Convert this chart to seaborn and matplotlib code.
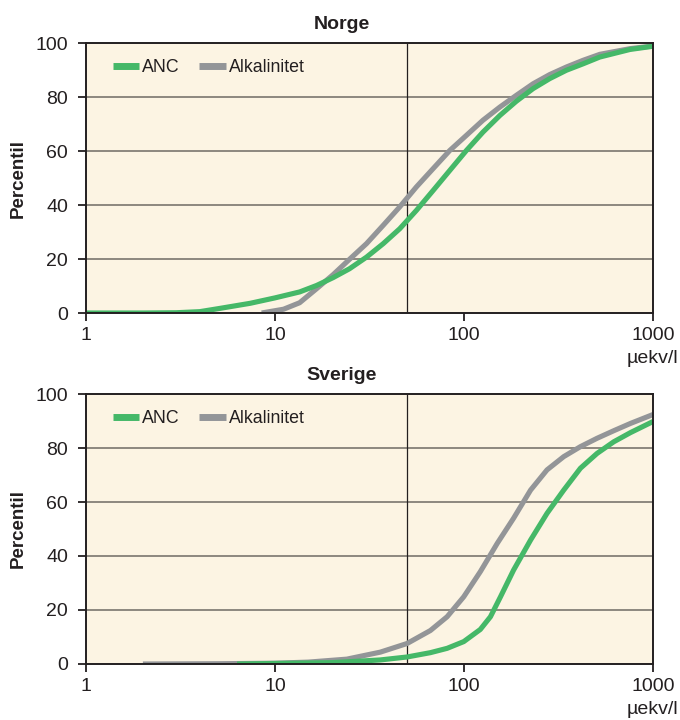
import matplotlib
matplotlib.use("Agg")
import matplotlib.pyplot as plt
import seaborn as sns
import pandas as pd
from matplotlib.ticker import NullLocator, FixedLocator, FixedFormatter

# ---------------- data ----------------
norge_anc_x = [1, 2, 3, 4, 5.1, 7.4, 10, 13.5, 16.6, 20.3, 24.8, 30.5, 37.4, 45.7,
               56, 68.7, 84.1, 103, 126, 155, 189, 232, 284, 348, 427, 523, 755, 1000]
norge_anc_y = [0, 0, 0.1, 0.5, 1.7, 3.6, 5.6, 7.8, 10.2, 13.1, 16.4, 20.7, 25.7, 31.2,
               38, 45.4, 52.8, 60.2, 67, 73.2, 78.4, 83.1, 86.8, 89.9, 92.3, 94.8, 97.6, 98.8]

norge_alk_x = [8.5, 11.1, 13.5, 16.6, 20.3, 24.8, 30.5, 37.4, 45.7, 56, 68.7, 84.1,
               103, 126, 155, 189, 232, 284, 348, 427, 523, 755, 1000]
norge_alk_y = [0, 1.4, 3.8, 9.0, 14.2, 19.9, 25.7, 32.5, 39.3, 46.7, 53.5, 60.2,
               65.8, 71.4, 76.3, 80.6, 84.9, 88.3, 91.1, 93.6, 95.8, 97.9, 98.9]

sverige_alk_x = [2, 5, 10, 15, 24, 36.1, 50, 66.4, 81.4, 99.7, 122, 150, 183, 225,
                 275, 337, 413, 506, 620, 760, 1000]
sverige_alk_y = [0, 0.1, 0.3, 0.7, 1.8, 4.4, 7.6, 12.4, 17.5, 24.9, 34.2, 44.7, 54, 64.4,
                 71.9, 76.8, 80.5, 83.6, 86.4, 89.1, 92.4]

sverige_anc_x = [6.3, 10, 20, 36, 50, 66.4, 81.4, 99.7, 122, 138, 156, 183, 225, 275,
                 337, 413, 506, 620, 760, 1000]
sverige_anc_y = [0, 0.2, 0.5, 1.5, 2.6, 4.2, 5.8, 8.3, 12.8, 17.5, 24.9, 34.8, 45.9, 55.8,
                 64.4, 72.5, 78, 82.3, 85.7, 89.8]

series_names = ["ANC", "Alkalinitet"]
panel_titles = ["Norge", "Sverige"]
x_ticks = [1, 10, 100, 1000]
x_tick_labels = ["1", "10", "100", "1000"]
y_ticks = [0, 20, 40, 60, 80, 100]
x_unit = "\u00b5ekv/l"
y_label = "Percentil"
ref_value = 50

# ---------------- style ----------------
sns.set_style("ticks")
plt.rcParams["font.family"] = ["Liberation Sans", "DejaVu Sans"]

GREEN = "#45B868"
GRAY = "#939598"
BG = "#FCF4E3"
GRID = "#6F6A64"
DARK = "#231F20"

def build_df(anc_x, anc_y, alk_x, alk_y):
    d1 = pd.DataFrame({"x": anc_x, "y": anc_y, "serie": series_names[0]})
    d2 = pd.DataFrame({"x": alk_x, "y": alk_y, "serie": series_names[1]})
    return pd.concat([d1, d2], ignore_index=True)

panels = [
    build_df(norge_anc_x, norge_anc_y, norge_alk_x, norge_alk_y),
    build_df(sverige_anc_x, sverige_anc_y, sverige_alk_x, sverige_alk_y),
]

fig = plt.figure(figsize=(6.8, 7.2), dpi=100)
W, H = 680, 720
axes_rects = [
    [86 / W, 1 - 313 / H, 567 / W, 270 / H],
    [86 / W, 1 - 664 / H, 567 / W, 270 / H],
]

for df, title, rect in zip(panels, panel_titles, axes_rects):
    ax = fig.add_axes(rect)
    ax.set_facecolor(BG)
    ax.set_xscale("log")
    ax.set_xlim(1, 1000)
    ax.set_ylim(0, 100)

    # grid + reference line
    for yv in y_ticks[1:-1]:
        ax.axhline(yv, color=GRID, lw=1.1, zorder=1)
    ax.axvline(ref_value, color=DARK, lw=0.9, zorder=1)

    sns.lineplot(data=df, x="x", y="y", hue="serie",
                 hue_order=["Alkalinitet", "ANC"],
                 palette={"ANC": GREEN, "Alkalinitet": GRAY},
                 estimator=None, sort=True, linewidth=3.7, ax=ax,
                 legend=True, zorder=3)
    for ln in ax.get_lines():
        ln.set_solid_capstyle("butt")
        ln.set_solid_joinstyle("round")

    h, l = ax.get_legend_handles_labels()
    order = [l.index("ANC"), l.index("Alkalinitet")]
    leg = ax.legend([h[i] for i in order], [l[i] for i in order],
                    loc="center left", bbox_to_anchor=(0.047, 0.91),
                    ncol=2, frameon=False, fontsize=12.8,
                    handlelength=1.5, handletextpad=0.15,
                    columnspacing=1.1, borderpad=0, borderaxespad=0)
    for lh in leg.get_lines():
        lh.set_linewidth(5)
        lh.set_solid_capstyle("butt")
    for t in leg.get_texts():
        t.set_color(DARK)

    ax.xaxis.set_major_locator(FixedLocator(x_ticks))
    ax.xaxis.set_major_formatter(FixedFormatter(x_tick_labels))
    ax.xaxis.set_minor_locator(NullLocator())
    ax.set_yticks(y_ticks)

    ax.tick_params(axis="both", direction="out", length=6, width=1.3,
                   colors=DARK, labelsize=14)
    ax.tick_params(axis="x", pad=4)
    ax.tick_params(axis="y", pad=7)

    for sp in ax.spines.values():
        sp.set_visible(True)
        sp.set_color(DARK)
        sp.set_linewidth(1.4)
        sp.set_zorder(4)

    ax.set_xlabel("")
    ax.set_ylabel(y_label, fontsize=13.5, fontweight="bold", color=DARK,
                  labelpad=6)
    ax.text(0.451, 1.052, title, transform=ax.transAxes, ha="center",
            va="baseline", fontsize=14, fontweight="bold", color=DARK)
    ax.text(1.044, -0.167, x_unit, transform=ax.transAxes, ha="right",
            va="center", fontsize=14, color=DARK)

fig.savefig("out.png", dpi=100, facecolor="white")
